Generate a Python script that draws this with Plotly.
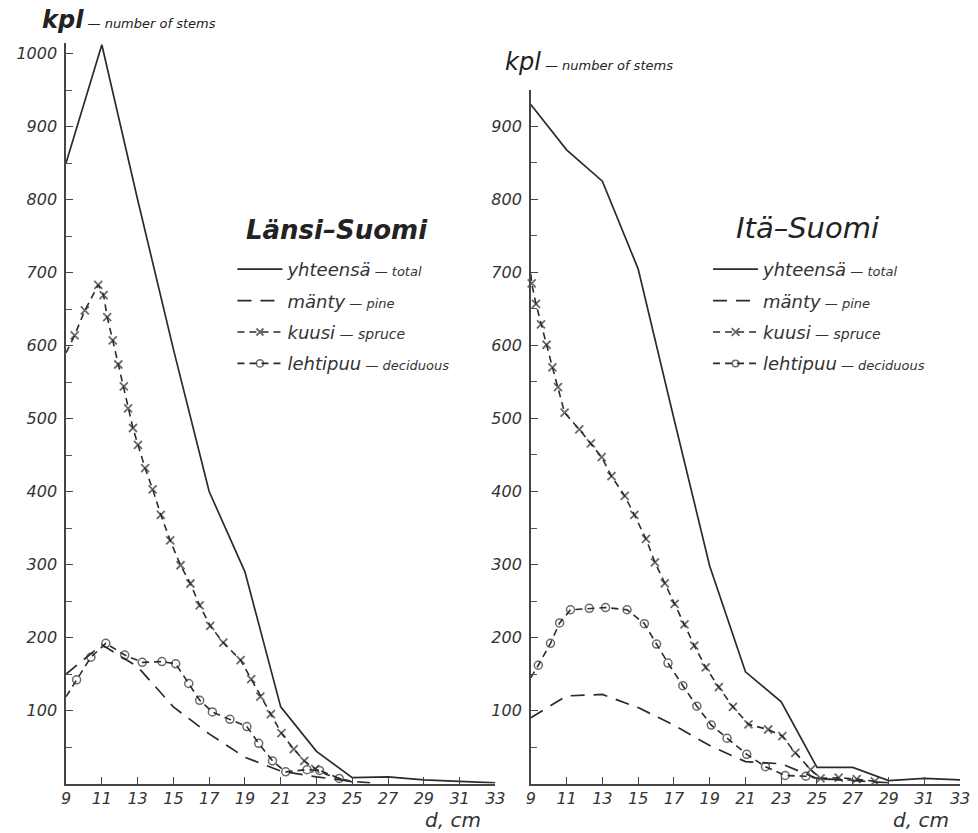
import plotly.graph_objects as go

# ---------------- data ----------------
D_TICKS = [9, 11, 13, 15, 17, 19, 21, 23, 25, 27, 29, 31, 33]
Y_TICKS_W = [100, 200, 300, 400, 500, 600, 700, 800, 900, 1000]
Y_TICKS_E = [100, 200, 300, 400, 500, 600, 700, 800, 900]

# Länsi-Suomi (West Finland)
w_total_x = [9, 11, 13, 15, 17, 19, 21, 23, 25, 27, 29, 31, 33]
w_total_y = [850, 1012, 800, 595, 400, 290, 105, 44, 8, 9, 5, 3, 1]

w_pine_x = [9, 11, 13, 15, 17, 19, 21, 23, 25, 26]
w_pine_y = [150, 190, 160, 105, 68, 36, 17, 9, 3, 1]

w_spruce_x = [9, 9.48, 10.05, 10.8, 11.1, 11.3, 11.61, 11.92, 12.23, 12.47, 12.74,
              13.02, 13.42, 13.84, 14.30, 14.82, 15.40, 15.95, 16.47, 17.06, 17.79,
              18.76, 19.35, 19.86, 20.45, 21.04, 21.73, 22.32, 22.93, 23.6, 24.4, 25]
w_spruce_y = [590, 614, 648, 683, 669, 639, 607, 574, 544, 514, 487,
              464, 432, 403, 368, 333, 299, 274, 244, 216, 193,
              169, 143, 119, 95, 69, 47, 31, 20, 12, 6, 2]

w_decid_x = [9, 9.59, 10.39, 11.22, 12.28, 13.26, 14.36, 15.13, 15.86, 16.47, 17.18,
             18.16, 19.11, 19.77, 20.54, 21.28, 22.47, 23.17, 24.27, 25]
w_decid_y = [119, 142, 173, 192, 176, 166, 167, 164, 137, 114, 98,
             88, 78, 55, 31, 16, 19, 18, 7, 3]

# Itä-Suomi (East Finland)
e_total_x = [9, 11, 13, 15, 17, 19, 21, 23, 25, 27, 29, 31, 33]
e_total_y = [930, 868, 825, 705, 500, 298, 153, 112, 22, 22, 4, 7, 5]

e_pine_x = [9, 11, 13, 15, 17, 19, 21, 23, 25, 27, 29]
e_pine_y = [90, 120, 122, 104, 80, 52, 30, 27, 7, 4, 1]

e_spruce_x = [9, 9.05, 9.29, 9.57, 9.88, 10.21, 10.52, 10.89, 11.71, 12.36, 12.96,
              13.51, 14.25, 14.79, 15.44, 15.94, 16.49, 17.04, 17.59, 18.14, 18.78,
              19.51, 20.30, 21.17, 22.27, 23.06, 23.79, 24.65, 25.2, 26.21, 27.22, 28.23]
e_spruce_y = [698, 685, 657, 629, 601, 570, 543, 508, 485, 466, 447,
              421, 394, 368, 335, 303, 274, 246, 218, 189, 159,
              132, 105, 81, 74, 65, 42, 19, 7, 8, 6, 3]

e_decid_x = [9, 9.42, 10.10, 10.61, 11.22, 12.27, 13.18, 14.38, 15.35, 16.03, 16.67,
             17.50, 18.28, 19.09, 19.97, 21.07, 22.12, 23.22, 24.38, 25.3, 26.5, 27.5]
e_decid_y = [145, 162, 192, 220, 238, 240, 241, 238, 219, 191, 165,
             134, 106, 80, 62, 40, 23, 11, 10, 6, 5, 4]

NAMES = {
    "total": "yhteensä<span style='font-size:13px'> — total</span>",
    "pine": "mänty<span style='font-size:13px'> — pine</span>",
    "spruce": "kuusi<span style='font-size:14px'> — spruce</span>",
    "decid": "lehtipuu<span style='font-size:13px'> — deciduous</span>",
}

INK = "#2b2b2b"
FONT = "DejaVu Sans"

fig = go.Figure()


def sizes_for(xs, cutoff, size=8):
    return [0 if (i == 0 or x > cutoff) else size for i, x in enumerate(xs)]


def add_panel(tx, ty, px, py, sx, sy, dx, dy, xa, ya, leg, s_cut, d_cut):
    fig.add_trace(go.Scatter(
        x=tx, y=ty, mode="lines", name=NAMES["total"], xaxis=xa, yaxis=ya,
        legend=leg, legendgroup=leg + "a",
        line=dict(color=INK, width=1.7)))
    fig.add_trace(go.Scatter(
        x=px, y=py, mode="lines", name=NAMES["pine"], xaxis=xa, yaxis=ya,
        legend=leg, legendgroup=leg + "b",
        line=dict(color=INK, width=1.7, dash="14px,9px")))
    fig.add_trace(go.Scatter(
        x=sx, y=sy, mode="lines+markers", name=NAMES["spruce"], xaxis=xa, yaxis=ya,
        legend=leg, legendgroup=leg + "c", cliponaxis=False,
        line=dict(color=INK, width=1.6, dash="7px,5px"),
        marker=dict(symbol="x-thin", size=sizes_for(sx, s_cut), color=INK,
                    line=dict(color=INK, width=1.8))))
    fig.add_trace(go.Scatter(
        x=dx, y=dy, mode="lines+markers", name=NAMES["decid"], xaxis=xa, yaxis=ya,
        legend=leg, legendgroup=leg + "d", cliponaxis=False,
        line=dict(color=INK, width=1.6, dash="7px,5px"),
        marker=dict(symbol="circle-open", size=sizes_for(dx, d_cut), color=INK,
                    line=dict(color=INK, width=1.5))))


add_panel(w_total_x, w_total_y, w_pine_x, w_pine_y, w_spruce_x, w_spruce_y,
          w_decid_x, w_decid_y, "x", "y", "legend", 23.0, 24.3)
add_panel(e_total_x, e_total_y, e_pine_x, e_pine_y, e_spruce_x, e_spruce_y,
          e_decid_x, e_decid_y, "x2", "y2", "legend2", 28.3, 24.5)

tickfont = dict(family=FONT, size=16, color="#333", style="italic")


def xaxis_cfg(domain, anchor):
    return dict(domain=domain, anchor=anchor, range=[9, 33], tickvals=D_TICKS,
                ticks="inside", ticklen=7, tickwidth=1.3, tickcolor="#444",
                showline=True, linecolor="#444", linewidth=1.5,
                showgrid=False, zeroline=False, tickfont=tickfont)


def yaxis_cfg(domain, anchor, rng, tickvals):
    minor_vals = [v - 50 for v in tickvals] + [tickvals[-1] + 50]
    minor_vals = [v for v in minor_vals if 0 < v < rng]
    return dict(domain=domain, anchor=anchor, range=[0, rng], tickvals=tickvals,
                ticks="inside", ticklen=7, tickwidth=1.3, tickcolor="#444",
                minor=dict(tickvals=minor_vals, ticks="inside", ticklen=6,
                           tickwidth=1.2, tickcolor="#555"),
                showline=True, linecolor="#444", linewidth=1.5,
                showgrid=False, zeroline=False, tickfont=tickfont,
                ticklabelstandoff=4)


legend_font = dict(family=FONT, size=18, color="#333", style="italic")

fig.update_layout(
    width=978, height=833,
    margin=dict(l=0, r=0, t=0, b=0),
    paper_bgcolor="white", plot_bgcolor="white",
    font=dict(family=FONT, style="italic"),
    showlegend=True,
    xaxis=xaxis_cfg([0.0634, 0.5092], "y"),
    yaxis=yaxis_cfg([0.0594, 0.9489], "x", 1015, Y_TICKS_W),
    xaxis2=xaxis_cfg([0.5460, 0.9918], "y2"),
    yaxis2=yaxis_cfg([0.0594, 0.8920], "x2", 950, Y_TICKS_E),
    legend=dict(x=231 / 978, y=1 - 251 / 833, xanchor="left", yanchor="top",
                bgcolor="rgba(0,0,0,0)", font=legend_font, tracegroupgap=5,
                traceorder="grouped", itemwidth=45),
    legend2=dict(x=714 / 978, y=1 - 251 / 833, xanchor="left", yanchor="top",
                 bgcolor="rgba(0,0,0,0)", font=legend_font, tracegroupgap=5,
                 traceorder="grouped", itemwidth=45),
    annotations=[
        dict(text="<b>Länsi–Suomi</b>", x=337 / 978, y=1 - 230 / 833,
             xref="paper", yref="paper", xanchor="center", yanchor="middle",
             showarrow=False,
             font=dict(family=FONT, size=26, color="#222", style="italic")),
        dict(text="Itä–Suomi", x=815 / 978, y=1 - 228 / 833,
             xref="paper", yref="paper", xanchor="center", yanchor="middle",
             showarrow=False,
             font=dict(family=FONT, size=29, color="#222", style="italic")),
        dict(text="<b>kpl</b><span style='font-size:13px'> — number of stems</span>",
             x=36 / 978, y=1 - 20 / 833, xref="paper", yref="paper",
             xanchor="left", yanchor="middle", showarrow=False,
             font=dict(family=FONT, size=24, color="#222", style="italic")),
        dict(text="kpl<span style='font-size:13px'> — number of stems</span>",
             x=506 / 978, y=1 - 62 / 833, xref="paper", yref="paper",
             xanchor="left", yanchor="middle", showarrow=False,
             font=dict(family=FONT, size=24, color="#222", style="italic")),
        dict(text="d, cm", x=455 / 978, y=1 - 820 / 833, xref="paper", yref="paper",
             xanchor="center", yanchor="middle", showarrow=False,
             font=dict(family=FONT, size=20, color="#333", style="italic")),
        dict(text="d, cm", x=930 / 978, y=1 - 820 / 833, xref="paper", yref="paper",
             xanchor="center", yanchor="middle", showarrow=False,
             font=dict(family=FONT, size=20, color="#333", style="italic")),
    ],
)

fig.write_html("out.html",
               config={"displayModeBar": False},
               post_script="document.body.style.margin='0px';"
                           "document.body.style.overflow='hidden';")
